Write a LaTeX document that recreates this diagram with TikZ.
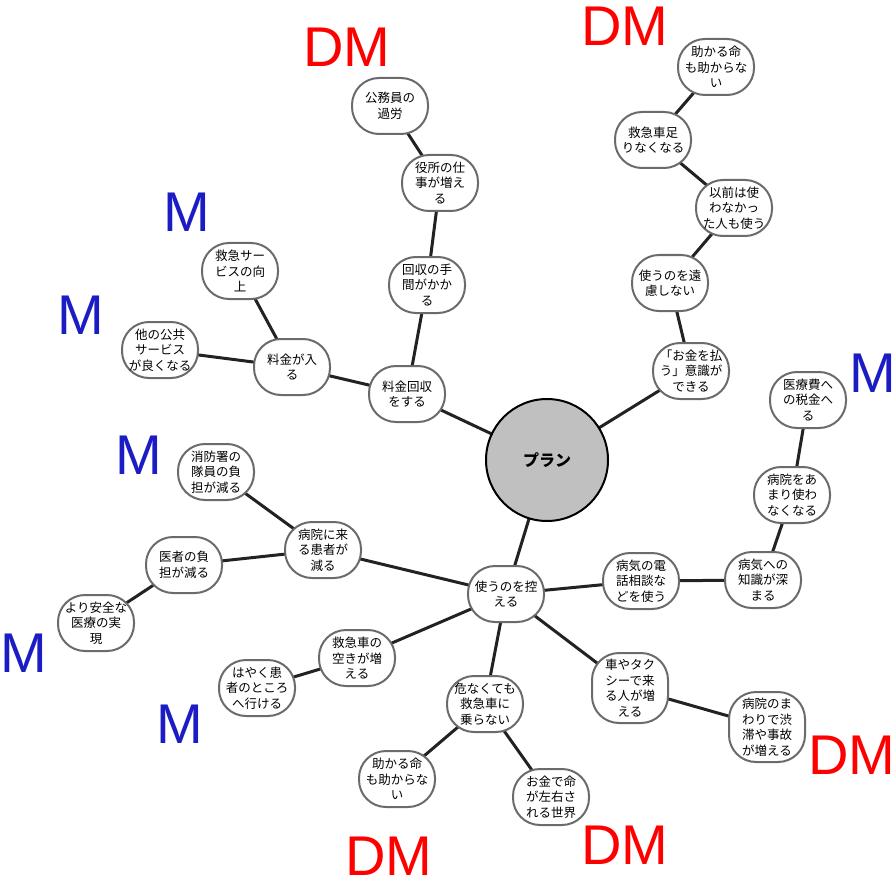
\documentclass[tikz,border=0pt]{standalone}
\usepackage{fontspec}
\newfontfamily\jp{Noto Sans CJK JP}
\newfontfamily\lat{Liberation Sans}
\usetikzlibrary{backgrounds}
\definecolor{nodegray}{HTML}{6B6B6B}
\definecolor{linegray}{HTML}{222222}
\definecolor{hubfill}{HTML}{C0C0C0}
\definecolor{mblue}{HTML}{1C1CC4}
\tikzset{
  idea/.style={draw=nodegray, line width=2pt, fill=white, rounded corners=27pt,
    minimum width=76pt, minimum height=56pt, align=center, inner sep=1pt,
    font=\jp\fontsize{12.5}{15.5}\selectfont},
  tall/.style={minimum height=70pt},
  hub/.style={circle, draw=black, line width=2pt, fill=hubfill, minimum size=122pt,
    font=\jp\bfseries\fontsize{16}{18}\selectfont},
  link/.style={draw=linegray, line width=3pt},
  dmlabel/.style={text=red, inner sep=0pt, font=\lat\fontsize{56}{56}\selectfont},
  mlabel/.style={text=mblue, inner sep=0pt, font=\lat\fontsize{56}{56}\selectfont}
}
\begin{document}
\begin{tikzpicture}[x=1pt,y=-1pt]
\useasboundingbox (0,0) rectangle (896,885);

\node[hub] (plan) at (547,460) {プラン};

% upper-left branch
\node[idea] (ryokin) at (407,394) {料金回収\\をする};
\node[idea] (tema) at (427,285) {回収の手\\間がかか\\る};
\node[idea] (yakusho) at (440,183) {役所の仕\\事が増え\\る};
\node[idea] (komuin) at (390,106) {公務員の\\過労};
\node[idea] (hairu) at (292,367) {料金が入\\る};
\node[idea] (kyukyusv) at (240,271) {救急サー\\ビスの向\\上};
\node[idea] (tanokokyo) at (160,350) {他の公共\\サービス\\が良くなる};

% upper-right branch
\node[idea] (ishiki) at (691,371) {「お金を払\\う」意識が\\できる};
\node[idea] (enryo) at (670,283) {使うのを遠\\慮しない};
\node[idea] (izen) at (734,208) {以前は使\\わなかっ\\た人も使う};
\node[idea] (tarinaku) at (653,140) {救急車足\\りなくなる};
\node[idea] (tasukaru1) at (716,67) {助かる命\\も助からな\\い};

% lower branch
\node[idea] (hikaeru) at (506,594) {使うのを控\\える};
\node[idea] (denwa) at (641,581) {病気の電\\話相談な\\どを使う};
\node[idea] (chishiki) at (763,580) {病気への\\知識が深\\まる};
\node[idea] (amari) at (792,495) {病院をあ\\まり使わ\\なくなる};
\node[idea] (iryohi) at (808,400) {医療費へ\\の税金へ\\る};
\node[idea] (kanja) at (323,550) {病院に来\\る患者が\\減る};
\node[idea] (shobo) at (216,472) {消防署の\\隊員の負\\担が減る};
\node[idea] (isha) at (184,565) {医者の負\\担が減る};
\node[idea] (anzen) at (96,623) {より安全な\\医療の実\\現};
\node[idea] (aki) at (357,658) {救急車の\\空きが増\\える};
\node[idea] (hayaku) at (257,688) {はやく患\\者のところ\\へ行ける};
\node[idea] (abunaku) at (485,704) {危なくても\\救急車に\\乗らない};
\node[idea] (tasukaru2) at (397,779) {助かる命\\も助からな\\い};
\node[idea] (okane) at (551,797) {お金で命\\が左右さ\\れる世界};
\node[idea,tall] (taxi) at (630,688) {車やタク\\シーで来\\る人が増\\える};
\node[idea,tall] (jutai) at (767,727) {病院のま\\わりで渋\\滞や事故\\が増える};

\begin{scope}[on background layer]
  \draw[link] (plan.center) -- (ryokin.center);
  \draw[link] (ryokin.center) -- (tema.center);
  \draw[link] (tema.center) -- (yakusho.center);
  \draw[link] (yakusho.center) -- (komuin.center);
  \draw[link] (ryokin.center) -- (hairu.center);
  \draw[link] (hairu.center) -- (kyukyusv.center);
  \draw[link] (hairu.center) -- (tanokokyo.center);
  \draw[link] (plan.center) -- (ishiki.center);
  \draw[link] (ishiki.center) -- (enryo.center);
  \draw[link] (enryo.center) -- (izen.center);
  \draw[link] (izen.center) -- (tarinaku.center);
  \draw[link] (tarinaku.center) -- (tasukaru1.center);
  \draw[link] (plan.center) -- (hikaeru.center);
  \draw[link] (hikaeru.center) -- (denwa.center);
  \draw[link] (denwa.center) -- (chishiki.center);
  \draw[link] (chishiki.center) -- (amari.center);
  \draw[link] (amari.center) -- (iryohi.center);
  \draw[link] (hikaeru.center) -- (kanja.center);
  \draw[link] (kanja.center) -- (shobo.center);
  \draw[link] (kanja.center) -- (isha.center);
  \draw[link] (isha.center) -- (anzen.center);
  \draw[link] (hikaeru.center) -- (aki.center);
  \draw[link] (aki.center) -- (hayaku.center);
  \draw[link] (hikaeru.center) -- (abunaku.center);
  \draw[link] (abunaku.center) -- (tasukaru2.center);
  \draw[link] (abunaku.center) -- (okane.center);
  \draw[link] (hikaeru.center) -- (taxi.center);
  \draw[link] (taxi.center) -- (jutai.center);
\end{scope}

% labels
\node[dmlabel] (dm1) at (347,47) {DM};
\node[dmlabel] (dm2) at (625,26) {DM};
\node[dmlabel] (dm3) at (852,755) {DM};
\node[dmlabel] (dm4) at (625,845) {DM};
\node[dmlabel] (dm5) at (389,856) {DM};
\node[mlabel] (m1) at (187,212) {M};
\node[mlabel] (m2) at (81,315) {M};
\node[mlabel] (m3) at (139,455) {M};
\node[mlabel] (m4) at (873,373) {M};
\node[mlabel] (m5) at (24,653) {M};
\node[mlabel] (m6) at (180,724) {M};
\end{tikzpicture}
\end{document}
